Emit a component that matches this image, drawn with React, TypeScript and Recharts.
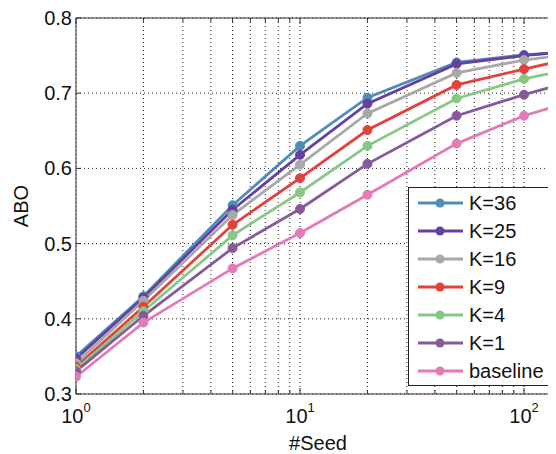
import React from 'react';
import { LineChart, Line, XAxis, YAxis, CartesianGrid, ReferenceLine } from 'recharts';

// values
const seeds = [1, 2, 5, 10, 20, 50, 100, 200];
const k36 = [0.350, 0.430, 0.551, 0.630, 0.694, 0.741, 0.751, 0.757];
const k25 = [0.347, 0.428, 0.545, 0.618, 0.686, 0.739, 0.750, 0.758];
const k16 = [0.341, 0.424, 0.538, 0.605, 0.673, 0.727, 0.744, 0.755];
const k9 = [0.336, 0.416, 0.525, 0.587, 0.651, 0.711, 0.732, 0.752];
const k4 = [0.333, 0.410, 0.511, 0.568, 0.630, 0.693, 0.719, 0.738];
const k1 = [0.330, 0.404, 0.494, 0.546, 0.606, 0.670, 0.698, 0.723];
const baseline = [0.323, 0.395, 0.467, 0.514, 0.565, 0.633, 0.670, 0.697];

const xTicks = [1, 2, 3, 4, 5, 6, 7, 8, 9, 10, 20, 30, 40, 50, 60, 70, 80, 90, 100];
const yTicks = [0.3, 0.4, 0.5, 0.6, 0.7, 0.8];

const series = [
  { key: 'k36', name: 'K=36', values: k36, color: '#508cb8' },
  { key: 'k25', name: 'K=25', values: k25, color: '#6540a0' },
  { key: 'k16', name: 'K=16', values: k16, color: '#a8a8a8' },
  { key: 'k9', name: 'K=9', values: k9, color: '#e2413c' },
  { key: 'k4', name: 'K=4', values: k4, color: '#88c786' },
  { key: 'k1', name: 'K=1', values: k1, color: '#87599b' },
  { key: 'base', name: 'baseline', values: baseline, color: '#e27bb6' },
];

const data = seeds.map((s, i) => {
  const row: Record<string, number> = { seed: s };
  series.forEach((sr) => (row[sr.key] = sr.values[i]));
  return row;
});

const W = 548;
const H = 446;
const TOP = 10;
const FONT = '"Liberation Sans", Arial, sans-serif';
const AXIS = '#333';

function SeedTick({ x, y, payload }: any) {
  const lg = Math.log10(payload.value);
  const exp = Math.round(lg);
  const major = Math.abs(lg - exp) < 1e-6;
  const len = major ? 6 : 4;
  return (
    <g>
      <line x1={x} x2={x} y1={y} y2={y - len} stroke={AXIS} />
      <line x1={x} x2={x} y1={TOP} y2={TOP + len} stroke={AXIS} />
      {major && (
        <text x={x} y={y + 29} textAnchor="middle" fontSize={20} fontFamily={FONT} fill="#111">
          <tspan>10</tspan>
          <tspan dy={-11} fontSize={13}>{exp}</tspan>
        </text>
      )}
    </g>
  );
}

function AboTick({ x, y, payload }: any) {
  return (
    <g>
      <line x1={x} x2={x + 5} y1={y} y2={y} stroke={AXIS} />
      <text x={x - 4} y={y + 7} textAnchor="end" fontSize={20} fontFamily={FONT} fill="#111">
        {payload.value.toFixed(1)}
      </text>
    </g>
  );
}

export default function App() {
  return (
    <div style={{ position: 'relative', width: W, height: H, fontFamily: FONT }}>
      <LineChart width={W} height={H} data={data} margin={{ top: TOP, right: 0, left: 0, bottom: 0 }}>
        <CartesianGrid stroke="#222" strokeDasharray="1 3" />
        <XAxis
          dataKey="seed"
          type="number"
          scale="log"
          domain={[1, 138.9]}
          allowDataOverflow
          ticks={xTicks}
          interval={0}
          height={60}
          tickSize={0}
          tickMargin={0}
          tickLine={false}
          stroke={AXIS}
          tick={<SeedTick />}
          label={{
            content: (p: any) => {
              const vb = p.viewBox;
              return (
                <text x={vb.x + vb.width / 2 + 2} y={vb.y + 56} textAnchor="middle" fontSize={20} fontFamily={FONT} fill="#111">
                  #Seed
                </text>
              );
            },
          }}
        />
        <YAxis
          type="number"
          domain={[0.3, 0.8]}
          ticks={yTicks}
          width={68}
          tickSize={0}
          tickMargin={0}
          tickLine={false}
          stroke={AXIS}
          tick={<AboTick />}
          label={{
            content: (p: any) => {
              const vb = p.viewBox;
              const cx = vb.x + 13;
              const cy = vb.y + vb.height / 2;
              return (
                <text x={cx} y={cy} transform={`rotate(-90 ${cx} ${cy})`} textAnchor="middle" dominantBaseline="central" fontSize={20} fontFamily={FONT} fill="#111">
                  ABO
                </text>
              );
            },
          }}
        />
        <ReferenceLine y={0.8} stroke={AXIS} />
        {series.map((s) => (
          <Line
            key={s.key}
            dataKey={s.key}
            name={s.name}
            stroke={s.color}
            strokeWidth={2.8}
            dot={{ r: 4.5, fill: s.color, stroke: s.color, strokeWidth: 1 }}
            isAnimationActive={false}
          />
        ))}
      </LineChart>
      <div
        style={{
          position: 'absolute',
          left: 400,
          top: 179,
          width: 145,
          height: 199,
          boxSizing: 'border-box',
          border: '1px solid #222',
          background: '#fff',
          paddingTop: 1,
        }}
      >
        {series.map((s) => (
          <div key={s.key} style={{ height: 28, display: 'flex', alignItems: 'center' }}>
            <svg width={60} height={28} style={{ flex: 'none' }}>
              <line x1={9} x2={54} y1={14} y2={14} stroke={s.color} strokeWidth={2.8} />
              <circle cx={31} cy={14} r={4.5} fill={s.color} />
            </svg>
            <span style={{ fontSize: 20, color: '#111', lineHeight: '28px' }}>{s.name}</span>
          </div>
        ))}
      </div>
    </div>
  );
}
